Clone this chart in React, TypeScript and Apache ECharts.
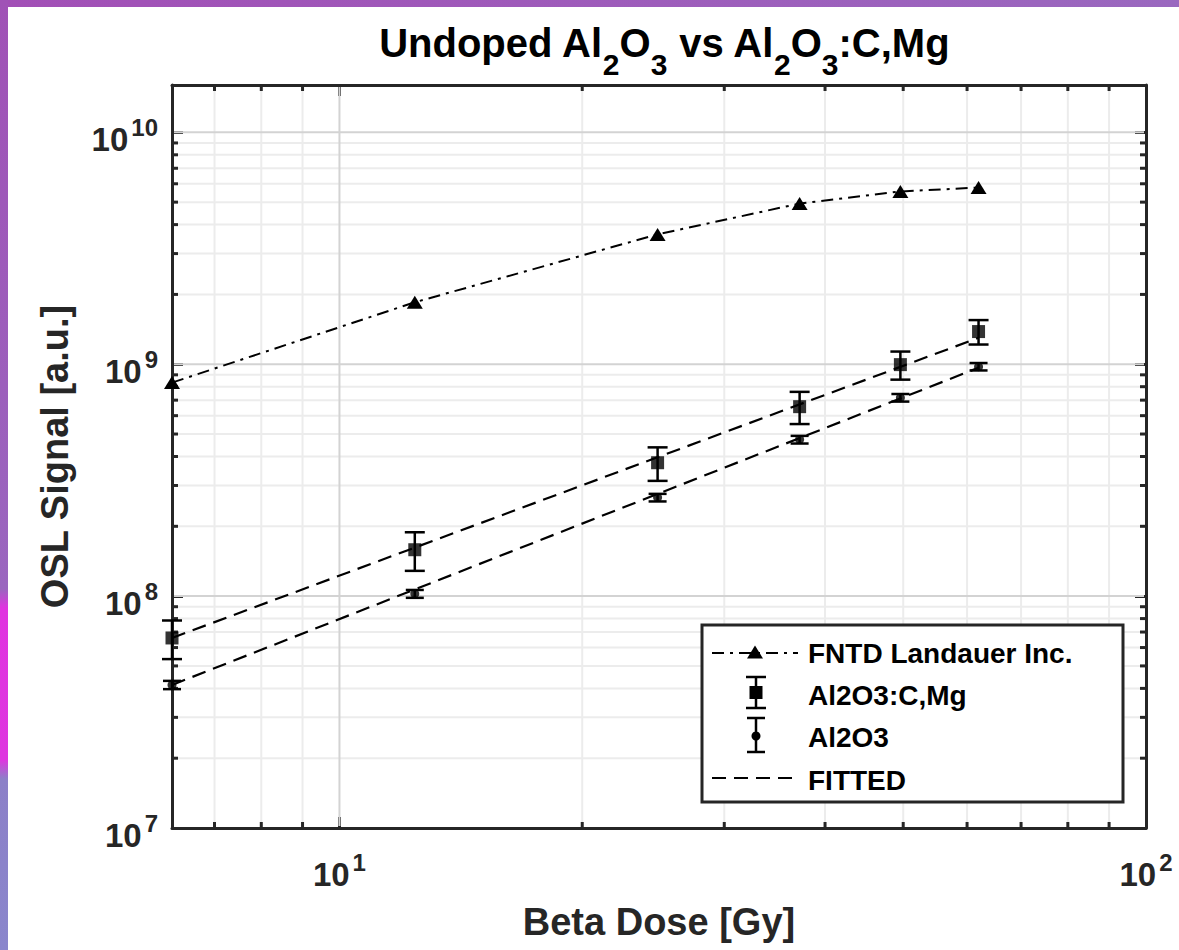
import React, { useEffect, useRef } from 'react';
import * as echarts from 'echarts';

const FONT = '"Liberation Sans", Arial, Helvetica, sans-serif';
const AX = '#262626';

// ---- data ----
const doses = [6.2, 12.4, 24.8, 37.2, 49.6, 62];
const fntdSignal = [8.33e8, 1.85e9, 3.63e9, 4.93e9, 5.56e9, 5.78e9];
const cmgSignal = [6.6e7, 1.585e8, 3.76e8, 6.56e8, 9.96e8, 1.383e9];
const cmgError = [1.25e7, 3.0e7, 6.2e7, 1.04e8, 1.38e8, 1.67e8];
const undopedSignal = [4.14e7, 1.023e8, 2.66e8, 4.73e8, 7.17e8, 9.76e8];
const undopedError = [1.7e6, 4.0e6, 1.0e7, 1.8e7, 2.7e7, 3.6e7];
const fitDoses = [6.2, 62];
const fitCmg = [6.6e7, 1.3e9];
const fitUndoped = [4.14e7, 9.66e8];
const xRange = [6.2, 100];
const yRange = [1e7, 1.6e10];
const xMajorGrid = [10];
const xMinorGrid = [7, 8, 9, 20, 30, 40, 50, 60, 70, 80, 90];
const yMajorGrid = [1e8, 1e9, 1e10];
const yMinorGrid = [
  2e7, 3e7, 4e7, 5e7, 6e7, 7e7, 8e7, 9e7,
  2e8, 3e8, 4e8, 5e8, 6e8, 7e8, 8e8, 9e8,
  2e9, 3e9, 4e9, 5e9, 6e9, 7e9, 8e9, 9e9,
];
const legendLabels = ['FNTD Landauer Inc.', 'Al2O3:C,Mg', 'Al2O3', 'FITTED'];

function powLabel(v: number) {
  const e = Math.log10(v);
  const r = Math.round(e);
  if (Math.abs(e - r) > 1e-6) return '';
  return `{b|10}{s|${r}}`;
}

function gridSeries(values: number[], axis: 'x' | 'y', major: boolean) {
  return {
    type: 'custom',
    silent: true,
    z: 1,
    clip: false,
    data: values.map((v) => (axis === 'x' ? [v, yRange[0]] : [xRange[0], v])),
    encode: { x: 0, y: 1 },
    renderItem: (params: any, api: any) => {
      const cs = params.coordSys;
      const p = api.coord([api.value(0), api.value(1)]);
      const stroke = major ? '#d3d3d3' : '#ececec';
      const children: any[] = [];
      const tickStyle = { stroke: AX, lineWidth: 3 };
      if (axis === 'x') {
        children.push({ type: 'line', shape: { x1: p[0], y1: cs.y + 2, x2: p[0], y2: cs.y + cs.height - 2 }, style: { stroke, lineWidth: 2 } });
        if (!major) {
          children.push({ type: 'line', shape: { x1: p[0], y1: cs.y + cs.height, x2: p[0], y2: cs.y + cs.height - 6 }, style: tickStyle });
          children.push({ type: 'line', shape: { x1: p[0], y1: cs.y, x2: p[0], y2: cs.y + 6 }, style: tickStyle });
        }
      } else {
        children.push({ type: 'line', shape: { x1: cs.x + 2, y1: p[1], x2: cs.x + cs.width - 2, y2: p[1] }, style: { stroke, lineWidth: 2 } });
        if (!major) {
          children.push({ type: 'line', shape: { x1: cs.x, y1: p[1], x2: cs.x + 6, y2: p[1] }, style: tickStyle });
          children.push({ type: 'line', shape: { x1: cs.x + cs.width, y1: p[1], x2: cs.x + cs.width - 6, y2: p[1] }, style: tickStyle });
        }
      }
      return { type: 'group', children };
    },
  };
}

function errorSeries(values: number[], errors: number[], halfCap: number) {
  return {
    type: 'custom',
    z: 4,
    silent: true,
    data: doses.map((d, i) => [d, values[i], errors[i]]),
    encode: { x: 0, y: 1 },
    renderItem: (params: any, api: any) => {
      const x = api.value(0);
      const v = api.value(1);
      const e = api.value(2);
      const hi = api.coord([x, v + e]);
      const lo = api.coord([x, v - e]);
      const st = { stroke: '#000', lineWidth: 2.5 };
      return {
        type: 'group',
        children: [
          { type: 'line', shape: { x1: hi[0], y1: hi[1], x2: lo[0], y2: lo[1] }, style: st },
          { type: 'line', shape: { x1: hi[0] - halfCap, y1: hi[1], x2: hi[0] + halfCap, y2: hi[1] }, style: st },
          { type: 'line', shape: { x1: lo[0] - halfCap, y1: lo[1], x2: lo[0] + halfCap, y2: lo[1] }, style: st },
        ],
      };
    },
  };
}

const tickRich = (big: number, small: number, lift: number) => ({
  b: { fontSize: big, fontWeight: 'bold', fontFamily: FONT, color: AX, lineHeight: 40 },
  s: { fontSize: small, fontWeight: 'bold', fontFamily: FONT, color: AX, lineHeight: 40, padding: [0, 0, lift, 3] },
});

const legendText = (label: string, y: number) => ({
  type: 'text',
  x: 808,
  y,
  z: 12,
  style: {
    text: label,
    fill: '#000',
    fontSize: 28,
    fontWeight: 'bold',
    fontFamily: FONT,
    align: 'left',
    verticalAlign: 'middle',
  },
});

export default function App() {
  const ref = useRef<HTMLDivElement>(null);
  useEffect(() => {
    const chart = echarts.init(ref.current!, null, { renderer: 'svg' });
    const nameStyle = { fontSize: 38, fontWeight: 'bold', fontFamily: FONT, color: AX };
    const axisLine = { show: true, onZero: false, lineStyle: { color: AX, width: 3 } };
    const axisTick = { show: true, inside: true, length: 11, lineStyle: { color: AX, width: 3 } };
    const subRich = {
      m: { fontSize: 40, fontWeight: 'bold', fontFamily: FONT, color: '#000', lineHeight: 72 },
      sub: { fontSize: 30, fontWeight: 'bold', fontFamily: FONT, color: '#000', lineHeight: 30, padding: [42, 0, 0, 0] },
    };
    const option: any = {
      animation: false,
      title: {
        text: '{m|Undoped Al}{sub|2}{m|O}{sub|3}{m| vs Al}{sub|2}{m|O}{sub|3}{m|:C,Mg}',
        left: 659,
        top: 2,
        textAlign: 'center',
        textStyle: { rich: subRich },
      },
      grid: { left: 172, top: 85, width: 974, height: 743, containLabel: false },
      xAxis: [
        {
          type: 'log',
          min: xRange[0],
          max: xRange[1],
          position: 'bottom',
          axisLine,
          axisTick,
          splitLine: { show: false },
          axisLabel: { formatter: powLabel, margin: 26, color: AX, rich: tickRich(33, 24, 24) },
          name: 'Beta Dose [Gy]',
          nameLocation: 'middle',
          nameGap: 72,
          nameTextStyle: nameStyle,
        },
        {
          type: 'log',
          min: xRange[0],
          max: xRange[1],
          position: 'top',
          axisLine,
          axisTick,
          splitLine: { show: false },
          axisLabel: { show: false },
        },
      ],
      yAxis: [
        {
          type: 'log',
          min: yRange[0],
          max: yRange[1],
          position: 'left',
          axisLine,
          axisTick,
          splitLine: { show: false },
          axisLabel: { formatter: powLabel, margin: 14, padding: [15, 0, 0, 0], color: AX, rich: tickRich(33, 24, 24) },
          name: 'OSL Signal [a.u.]',
          nameLocation: 'middle',
          nameGap: 98,
          nameTextStyle: nameStyle,
        },
        {
          type: 'log',
          min: yRange[0],
          max: yRange[1],
          position: 'right',
          axisLine,
          axisTick,
          splitLine: { show: false },
          axisLabel: { show: false },
        },
      ],
      series: [
        gridSeries(xMinorGrid, 'x', false),
        gridSeries(yMinorGrid, 'y', false),
        gridSeries(xMajorGrid, 'x', true),
        gridSeries(yMajorGrid, 'y', true),
        {
          name: 'FITTED C,Mg',
          type: 'line',
          z: 3,
          silent: true,
          data: fitDoses.map((d, i) => [d, fitCmg[i]]),
          showSymbol: false,
          symbol: 'none',
          lineStyle: { color: '#000', width: 2.2, type: [14, 8] },
        },
        {
          name: 'FITTED undoped',
          type: 'line',
          z: 3,
          silent: true,
          data: fitDoses.map((d, i) => [d, fitUndoped[i]]),
          showSymbol: false,
          symbol: 'none',
          lineStyle: { color: '#000', width: 2.2, type: [14, 8] },
        },
        {
          name: legendLabels[0],
          type: 'line',
          z: 5,
          silent: true,
          data: doses.map((d, i) => [d, fntdSignal[i]]),
          symbol: 'triangle',
          symbolSize: [16, 13],
          itemStyle: { color: '#000' },
          lineStyle: { color: '#000', width: 2, type: [12, 6, 3, 6] },
        },
        errorSeries(cmgSignal, cmgError, 10),
        errorSeries(undopedSignal, undopedError, 9),
        {
          name: legendLabels[1],
          type: 'scatter',
          z: 5,
          silent: true,
          data: doses.map((d, i) => [d, cmgSignal[i]]),
          symbol: 'rect',
          symbolSize: 13,
          itemStyle: { color: '#000' },
        },
        {
          name: legendLabels[2],
          type: 'scatter',
          z: 5,
          silent: true,
          data: doses.map((d, i) => [d, undopedSignal[i]]),
          symbol: 'circle',
          symbolSize: 9,
          itemStyle: { color: '#000' },
        },
      ],
      graphic: [
        { type: 'rect', z: 10, shape: { x: 702, y: 625, width: 421, height: 177 }, style: { fill: '#fff', stroke: AX, lineWidth: 3 } },
        { type: 'line', z: 11, shape: { x1: 712, y1: 653, x2: 798, y2: 653 }, style: { stroke: '#000', lineWidth: 2, lineDash: [12, 6, 3, 6] } },
        { type: 'polygon', z: 12, shape: { points: [[755, 645.5], [763, 658.5], [747, 658.5]] }, style: { fill: '#000' } },
        legendText(legendLabels[0], 653),
        { type: 'line', z: 11, shape: { x1: 756, y1: 677, x2: 756, y2: 708 }, style: { stroke: '#000', lineWidth: 2.5 } },
        { type: 'line', z: 11, shape: { x1: 746, y1: 677, x2: 766, y2: 677 }, style: { stroke: '#000', lineWidth: 2.5 } },
        { type: 'line', z: 11, shape: { x1: 746, y1: 708, x2: 766, y2: 708 }, style: { stroke: '#000', lineWidth: 2.5 } },
        { type: 'rect', z: 12, shape: { x: 749.5, y: 686, width: 13, height: 13 }, style: { fill: '#000' } },
        legendText(legendLabels[1], 695),
        { type: 'line', z: 11, shape: { x1: 756, y1: 718, x2: 756, y2: 752 }, style: { stroke: '#000', lineWidth: 2.5 } },
        { type: 'line', z: 11, shape: { x1: 747, y1: 718, x2: 765, y2: 718 }, style: { stroke: '#000', lineWidth: 2.5 } },
        { type: 'line', z: 11, shape: { x1: 747, y1: 752, x2: 765, y2: 752 }, style: { stroke: '#000', lineWidth: 2.5 } },
        { type: 'circle', z: 12, shape: { cx: 756, cy: 736, r: 4.5 }, style: { fill: '#000' } },
        legendText(legendLabels[2], 737),
        { type: 'line', z: 11, shape: { x1: 712, y1: 778, x2: 798, y2: 778 }, style: { stroke: '#000', lineWidth: 2.2, lineDash: [14, 8] } },
        legendText(legendLabels[3], 780),
      ],
    };
    chart.setOption(option);
    return () => chart.dispose();
  }, []);

  return (
    <div style={{ position: 'fixed', left: 0, top: 0, width: 1179, height: 950, overflow: 'hidden', background: '#fff' }}>
      <div style={{ position: 'absolute', left: 0, top: 0, width: 1179, height: 7, background: 'linear-gradient(90deg, #a24fb6, #9a68bf)' }} />
      <div
        style={{
          position: 'absolute',
          left: 0,
          top: 0,
          width: 8,
          height: 950,
          background:
            'linear-gradient(180deg, #a052b6 0%, #9a66bf 62%, #e034e0 64%, #de36df 80%, #8c80c8 82%, #8a86cc 100%)',
        }}
      />
      <div ref={ref} style={{ position: 'absolute', left: 0, top: 0, width: 1179, height: 950 }} />
    </div>
  );
}
